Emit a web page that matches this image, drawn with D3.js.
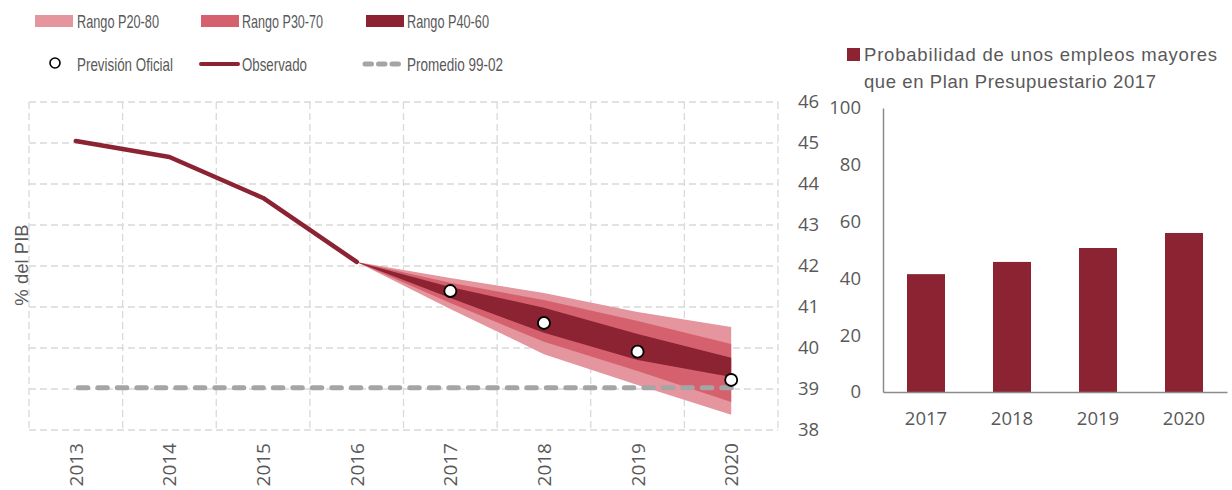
<!DOCTYPE html>
<html>
<head>
<meta charset="utf-8">
<script src="https://cdn.jsdelivr.net/npm/d3@7"></script>
<style>
  html, body { margin: 0; padding: 0; background: #fff; }
  svg { display: block; }
</style>
</head>
<body>
<svg id="chart" width="1232" height="490"></svg>
<script>
// ---- Data ----
const years = ["2013", "2014", "2015", "2016", "2017", "2018", "2019", "2020"];
const observedYears = ["2013", "2014", "2015", "2016"];
const observed = [45.05, 44.66, 43.66, 42.10];
const fanYears = ["2016", "2017", "2018", "2019", "2020"];
const p20 = [42.10, 40.95, 39.85, 39.10, 38.37];
const p30 = [42.10, 41.10, 40.15, 39.44, 38.68];
const p40 = [42.10, 41.22, 40.37, 39.71, 39.29];
const p60 = [42.10, 41.49, 40.98, 40.34, 39.76];
const p70 = [42.10, 41.59, 41.17, 40.66, 40.10];
const p80 = [42.10, 41.71, 41.34, 40.88, 40.51];
const forecastYears = ["2017", "2018", "2019", "2020"];
const forecast = [41.39, 40.61, 39.91, 39.22];
const average9902 = 39.03;
const debtTicks = [38, 39, 40, 41, 42, 43, 44, 45, 46];

const probYears = ["2017", "2018", "2019", "2020"];
const probability = [41.5, 45.8, 50.7, 56.0];
const probTicks = [0, 20, 40, 60, 80, 100];

// ---- Styles ----
const DARK = "#8b2332", MID = "#d5616e", LIGHT = "#e4959d";
const GRID = "#d9d9d9", TEXT = "#595959", AVG = "#a5a5a5";
const NUM_FONT = "'Open Sans', 'DejaVu Sans', sans-serif";
const LABEL_FONT = "'Liberation Sans', Arial, sans-serif";

const svg = d3.select("#chart");

// ================= Left panel: fan chart =================
const x = d3.scaleBand().domain(years).range([29, 778]).padding(0);
const cx = d => x(d) + x.bandwidth() / 2;
const y = d3.scaleLinear().domain([38, 46]).range([430, 102]);

const grid = svg.append("g").attr("stroke", GRID).attr("stroke-width", 1.3)
  .attr("stroke-dasharray", "7,4").attr("fill", "none");
grid.selectAll("line.h").data(debtTicks).join("line").attr("class", "h")
  .attr("x1", 29).attr("x2", 778).attr("y1", d => y(d)).attr("y2", d => y(d));
const edges = years.map(d => x(d)).concat([x.range()[1]]);
grid.selectAll("line.v").data(edges).join("line").attr("class", "v")
  .attr("x1", d => d).attr("x2", d => d).attr("y1", y(46)).attr("y2", y(38));

// Right-hand value axis
const yAxis = svg.append("g").attr("transform", "translate(778,0)")
  .call(d3.axisRight(y).tickValues(debtTicks).tickSize(0).tickPadding(20));
yAxis.select(".domain").remove();
yAxis.selectAll("text").attr("fill", TEXT).style("font-family", NUM_FONT).style("font-size", "18.5px");

// Rotated year labels
svg.append("g").selectAll("text").data(years).join("text")
  .attr("transform", d => `translate(${cx(d) + 7},443) rotate(-90)`)
  .attr("text-anchor", "end")
  .attr("fill", TEXT).style("font-family", NUM_FONT).style("font-size", "19px")
  .text(d => d);

// Axis title
svg.append("text")
  .attr("transform", "translate(28,265) rotate(-90)")
  .attr("text-anchor", "middle")
  .attr("fill", TEXT).style("font-family", LABEL_FONT).style("font-size", "18.5px")
  .text("% del PIB");

// Fan bands
const fanRows = fanYears.map((yr, i) => ({ yr, i }));
const band = (lo, hi) => d3.area().x(d => cx(d.yr)).y0(d => y(lo[d.i])).y1(d => y(hi[d.i]));
svg.append("path").datum(fanRows).attr("fill", LIGHT).attr("d", band(p20, p80));
svg.append("path").datum(fanRows).attr("fill", MID).attr("d", band(p30, p70));
svg.append("path").datum(fanRows).attr("fill", DARK).attr("d", band(p40, p60));

// 1999-2002 average
svg.append("line")
  .attr("x1", cx("2013") + 2.5).attr("x2", cx("2020"))
  .attr("y1", y(average9902)).attr("y2", y(average9902))
  .attr("stroke", AVG).attr("stroke-width", 5).attr("stroke-linecap", "round")
  .attr("stroke-dasharray", "9.5,10");

// Observed series
svg.append("path")
  .datum(observed.map((v, i) => ({ yr: observedYears[i], v })))
  .attr("fill", "none").attr("stroke", DARK).attr("stroke-width", 4.5)
  .attr("stroke-linecap", "round").attr("stroke-linejoin", "round")
  .attr("d", d3.line().x(d => cx(d.yr)).y(d => y(d.v)));

// Official forecast markers
svg.append("g").selectAll("circle").data(forecast).join("circle")
  .attr("cx", (d, i) => cx(forecastYears[i])).attr("cy", d => y(d)).attr("r", 6)
  .attr("fill", "#fff").attr("stroke", "#000").attr("stroke-width", 1.8);

// ---- Legend (condensed labels fitted to their slots) ----
const legend = svg.append("g").style("font-family", LABEL_FONT).style("font-size", "18.5px").attr("fill", TEXT);
const swatches = [
  { x: 35, color: LIGHT, tx: 77, w: 82, label: "Rango P20-80" },
  { x: 201, color: MID, tx: 242, w: 81, label: "Rango P30-70" },
  { x: 366, color: DARK, tx: 407, w: 82, label: "Rango P40-60" }
];
legend.selectAll("rect").data(swatches).join("rect")
  .attr("x", d => d.x).attr("y", 15).attr("width", 38).attr("height", 12).attr("fill", d => d.color);
legend.selectAll("text.r1").data(swatches).join("text").attr("class", "r1")
  .attr("x", d => d.tx).attr("y", 28)
  .attr("textLength", d => d.w).attr("lengthAdjust", "spacingAndGlyphs")
  .text(d => d.label);

legend.append("circle").attr("cx", 55).attr("cy", 63).attr("r", 5)
  .attr("fill", "#fff").attr("stroke", "#000").attr("stroke-width", 1.6);
legend.append("line").attr("x1", 201).attr("x2", 238).attr("y1", 64).attr("y2", 64)
  .attr("stroke", DARK).attr("stroke-width", 4).attr("stroke-linecap", "round");
legend.append("line").attr("x1", 365).attr("x2", 399).attr("y1", 64).attr("y2", 64)
  .attr("stroke", AVG).attr("stroke-width", 5).attr("stroke-linecap", "round")
  .attr("stroke-dasharray", "6.5,7");
legend.selectAll("text.r2").data([
  { tx: 77, w: 96, label: "Previsión Oficial" },
  { tx: 242, w: 65, label: "Observado" },
  { tx: 407, w: 96, label: "Promedio 99-02" }
]).join("text").attr("class", "r2")
  .attr("x", d => d.tx).attr("y", 70.5)
  .attr("textLength", d => d.w).attr("lengthAdjust", "spacingAndGlyphs")
  .text(d => d.label);

// ================= Right panel: probability bars =================
const xb = d3.scaleBand().domain(probYears).range([883, 1227])
  .paddingInner(0.558).paddingOuter(0.279);
const yb = d3.scaleLinear().domain([0, 100]).range([392, 108]);

svg.append("g").selectAll("rect").data(probability).join("rect")
  .attr("x", (d, i) => xb(probYears[i])).attr("width", xb.bandwidth())
  .attr("y", d => yb(d)).attr("height", d => yb(0) - yb(d))
  .attr("fill", DARK);

const ybAxis = svg.append("g").attr("transform", "translate(883,0)")
  .call(d3.axisLeft(yb).tickValues(probTicks).tickSize(0).tickPadding(22));
ybAxis.select(".domain").attr("stroke", "#8c8c8c").attr("stroke-width", 1.5);
ybAxis.selectAll("text").attr("fill", TEXT).style("font-family", NUM_FONT).style("font-size", "18.5px");

const xbAxis = svg.append("g").attr("transform", "translate(0,392)")
  .call(d3.axisBottom(xb).tickSize(0).tickPadding(20));
xbAxis.select(".domain").attr("stroke", "#8c8c8c").attr("stroke-width", 1.5);
xbAxis.selectAll("text").attr("fill", TEXT).style("font-family", NUM_FONT).style("font-size", "18.5px");

// Bar legend
svg.append("rect").attr("x", 847).attr("y", 48).attr("width", 13).attr("height", 13).attr("fill", DARK);
const barLegend = svg.append("text").attr("fill", TEXT)
  .style("font-family", LABEL_FONT).style("font-size", "18.5px");
barLegend.append("tspan").attr("x", 864).attr("y", 61)
  .attr("textLength", 353).attr("lengthAdjust", "spacing")
  .text("Probabilidad de unos empleos mayores");
barLegend.append("tspan").attr("x", 864).attr("y", 88)
  .attr("textLength", 292).attr("lengthAdjust", "spacing")
  .text("que en Plan Presupuestario 2017");
</script>
</body>
</html>
